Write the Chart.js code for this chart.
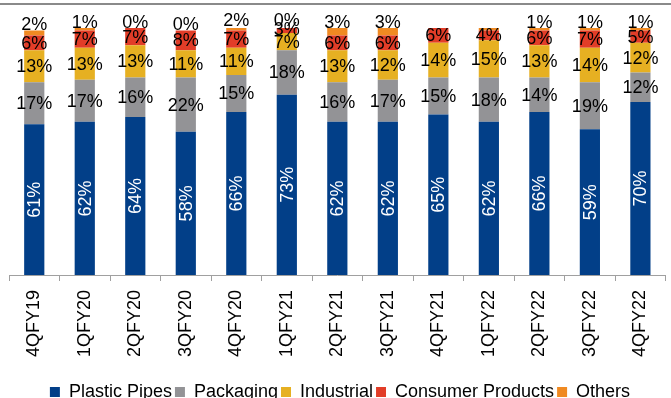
<!DOCTYPE html>
<html>
<head>
<meta charset="utf-8">
<script src="https://cdn.jsdelivr.net/npm/chart.js@4/dist/chart.umd.min.js"></script>
<style>
  html, body { margin: 0; padding: 0; background: #fff; overflow: hidden; }
  #wrap { position: relative; width: 671px; height: 398px; overflow: hidden; }
  #topline { position: absolute; left: 0; top: 3px; width: 671px; height: 2px; background: #8a8a8a; }
  canvas { position: absolute; left: 0; top: 0; }
</style>
</head>
<body>
<div id="wrap">
  <canvas id="c" width="671" height="411"></canvas>
  <div id="topline"></div>
</div>
<script>
const categories = ['4QFY19','1QFY20','2QFY20','3QFY20','4QFY20','1QFY21','2QFY21','3QFY21','4QFY21','1QFY22','2QFY22','3QFY22','4QFY22'];
const plasticPipes     = [61, 62, 64, 58, 66, 73, 62, 62, 65, 62, 66, 59, 70];
const packaging        = [17, 17, 16, 22, 15, 18, 16, 17, 15, 18, 14, 19, 12];
const industrial       = [13, 13, 13, 11, 11,  7, 13, 12, 14, 15, 13, 14, 12];
const consumerProducts = [ 6,  7,  7,  8,  7,  3,  6,  6,  6,  4,  6,  7,  5];
const others           = [ 2,  1,  0,  0,  2,  0,  3,  3, 0.4, 1,  1,  1,  1];
const othersLabels     = ['2%','1%','0%','0%','2%','0%','3%','3%','','','1%','1%','1%'];

const FONT = "Arial, 'Liberation Sans', sans-serif";
const colors = ['#023F88', '#939396', '#E6B022', '#E23D28', '#F08A22'];

const labelPlugin = {
  id: 'segLabels',
  afterDatasetsDraw(chart) {
    const ctx = chart.ctx;
    ctx.save();
    ctx.font = '18px ' + FONT;
    chart.data.datasets.forEach((ds, di) => {
      const meta = chart.getDatasetMeta(di);
      meta.data.forEach((bar, i) => {
        const v = ds.data[i];
        const p = bar.getProps(['x', 'y', 'base'], true);
        if (di === 4) {
          const t = othersLabels[i];
          if (!t) return;
          ctx.fillStyle = '#000';
          ctx.textAlign = 'center';
          ctx.textBaseline = 'alphabetic';
          ctx.fillText(t, p.x, p.y);
          return;
        }
        const t = Math.round(v) + '%';
        const cy = (p.y + p.base) / 2;
        if (di === 0) {
          ctx.save();
          ctx.translate(p.x, cy);
          ctx.rotate(-Math.PI / 2);
          ctx.fillStyle = '#fff';
          ctx.textAlign = 'center';
          ctx.textBaseline = 'middle';
          ctx.fillText(t, 0, 1);
          ctx.restore();
        } else {
          ctx.fillStyle = '#000';
          ctx.textAlign = 'center';
          ctx.textBaseline = 'middle';
          ctx.fillText(t, p.x, cy + 1);
        }
      });
    });
    ctx.restore();
  }
};

const names = ['Plastic Pipes', 'Packaging', 'Industrial', 'Consumer Products', 'Others'];
const series = [plasticPipes, packaging, industrial, consumerProducts, others];

new Chart(document.getElementById('c'), {
  type: 'bar',
  data: {
    labels: categories,
    datasets: series.map((d, k) => ({
      label: names[k],
      data: d,
      backgroundColor: colors[k],
      borderWidth: 0
    }))
  },
  options: {
    responsive: false,
    animation: false,
    devicePixelRatio: 1,
    layout: { padding: { top: 28, left: 9, right: 0, bottom: 0 } },
    datasets: { bar: { categoryPercentage: 1, barPercentage: 0.4 } },
    scales: {
      x: {
        stacked: true,
        grid: { display: true, drawOnChartArea: false, drawTicks: true, tickLength: 6, color: '#a0a0a0', offset: true },
        border: { display: true, color: '#a0a0a0', width: 1 },
        ticks: { color: '#000', font: { size: 18, family: FONT }, maxRotation: 90, minRotation: 90, padding: 9, autoSkip: false },
        afterFit: (s) => { s.height = 105; }
      },
      y: { stacked: true, display: false, min: 0, max: 100 }
    },
    plugins: {
      legend: {
        position: 'bottom',
        labels: { boxWidth: 10, boxHeight: 10, padding: 3, color: '#000', font: { size: 18, family: FONT } }
      },
      tooltip: { enabled: false }
    }
  },
  plugins: [labelPlugin]
});
</script>
</body>
</html>
